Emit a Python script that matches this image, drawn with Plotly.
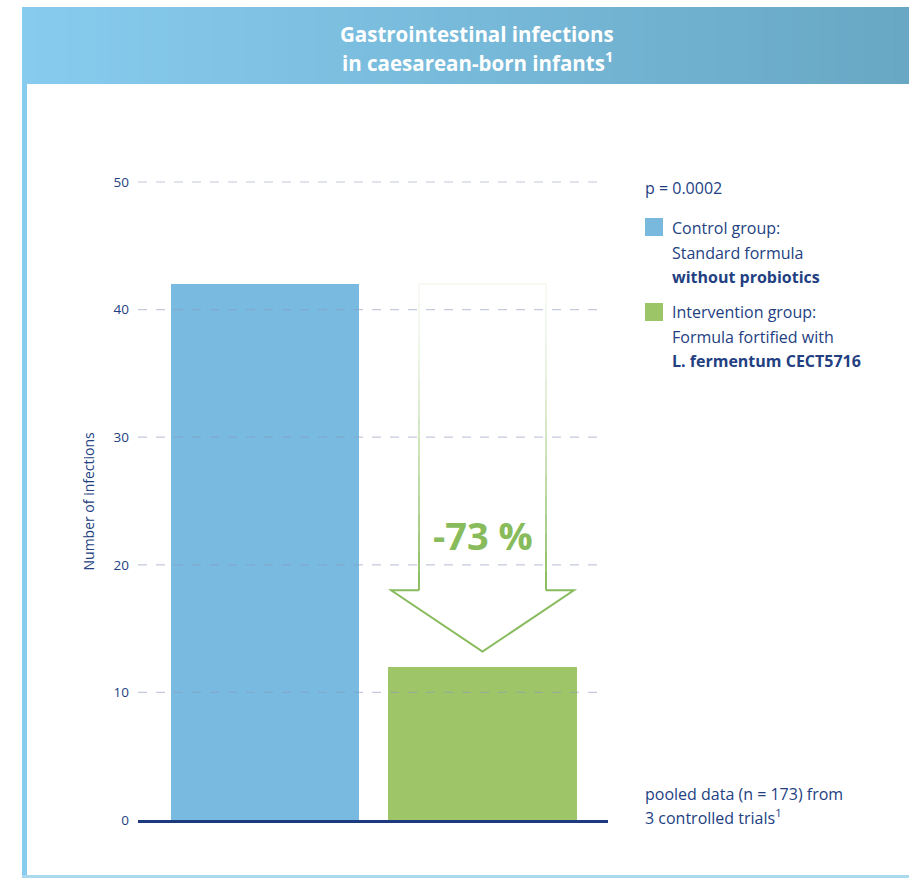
import plotly.graph_objects as go

# ---- data ----
groups = ["Control group", "Intervention group"]
infections = [42, 12]
reduction_label = "-73 %"
y_ticks = [0, 10, 20, 30, 40, 50]
title_lines = ["Gastrointestinal infections", "in caesarean-born infants<sup>1</sup>"]
p_value_text = "p = 0.0002"
legend_control = ["Control group:", "Standard formula", "<b>without probiotics</b>"]
legend_interv = ["Intervention group:", "Formula fortified with", "<b>L. fermentum CECT5716</b>"]
footnote = ["pooled data (n = 173) from", "3 controlled trials<sup>1</sup>"]
y_axis_title = "Number of infections"

# ---- layout constants ----
W, H = 909, 878
ML, MR, MT, MB = 138, 301, 100, 58
PW, PH = W - ML - MR, H - MT - MB
PX_PER_UNIT = 12.76
NAVY = "#233f82"
GREEN = "#88bb5c"
bar_colors = ["#79bbe0", "#9ec668"]

def px(xp):
    return (xp - ML) / PW

def py(yp):
    return (H - MB - yp) / PH

x_pos = list(range(len(groups)))

fig = go.Figure()
fig.add_trace(go.Bar(
    x=x_pos, y=infections, width=0.865,
    marker=dict(color=bar_colors, line=dict(width=0)),
    hoverinfo="skip", showlegend=False,
))

shapes = []

# header gradient band
c0 = (0x87, 0xcb, 0xee)
c1 = (0x68, 0xa8, 0xc5)
n = 60
x_left, x_right = 22, 909
for i in range(n):
    t = i / (n - 1)
    col = "rgb(%d,%d,%d)" % tuple(round(a + (b - a) * t) for a, b in zip(c0, c1))
    xa = x_left + (x_right - x_left) * i / n
    xb = x_left + (x_right - x_left) * (i + 1) / n + 0.8
    shapes.append(dict(type="rect", xref="paper", yref="paper",
                       x0=px(xa), x1=px(xb), y0=py(84), y1=py(7),
                       fillcolor=col, line=dict(width=0), layer="below"))
# left stripe and bottom line
shapes.append(dict(type="rect", xref="paper", yref="paper", x0=px(22), x1=px(27),
                   y0=py(878), y1=py(84), fillcolor="#87cbee", line=dict(width=0)))
shapes.append(dict(type="rect", xref="paper", yref="paper", x0=px(22), x1=px(909),
                   y0=py(878), y1=py(875), fillcolor="#a9d8ef", line=dict(width=0)))

# dashed gridlines drawn above the bars (semi-transparent)
for t in y_ticks[1:]:
    shapes.append(dict(type="line", xref="paper", yref="y", x0=0, x1=0.995, y0=t, y1=t,
                       line=dict(color="rgba(140,150,185,0.5)", width=1.2, dash="dash"),
                       layer="above"))

# arrow outline (from control level down to intervention level)
top = infections[0]
tip = infections[1] + 1.2
head_base = 18.0
cx = x_pos[1]
shaft_hw, head_hw = 0.292, 0.42
shapes.append(dict(type="line", x0=cx - shaft_hw, x1=cx + shaft_hw, y0=top, y1=top,
                   line=dict(color=GREEN, width=2), opacity=0.08))
nseg = 16
for i in range(nseg):
    ya = top - (top - head_base) * i / nseg
    yb = top - (top - head_base) * (i + 1) / nseg
    op = 0.06 + 0.94 * ((i + 0.5) / nseg) ** 1.6
    for sx in (cx - shaft_hw, cx + shaft_hw):
        shapes.append(dict(type="line", x0=sx, x1=sx, y0=ya, y1=yb,
                           line=dict(color=GREEN, width=2), opacity=op))
head_path = (f"M {cx - shaft_hw} {head_base} L {cx - head_hw} {head_base} "
             f"L {cx} {tip} L {cx + head_hw} {head_base} L {cx + shaft_hw} {head_base}")
shapes.append(dict(type="path", path=head_path, line=dict(color=GREEN, width=2)))

# legend squares
shapes.append(dict(type="rect", xref="paper", yref="paper", x0=px(645), x1=px(663),
                   y0=py(236), y1=py(218), fillcolor="#78b9dd", line=dict(width=0)))
shapes.append(dict(type="rect", xref="paper", yref="paper", x0=px(645), x1=px(663),
                   y0=py(321), y1=py(303), fillcolor="#9cc568", line=dict(width=0)))

FONT = "Open Sans"
annotations = []
annotations.append(dict(xref="paper", yref="paper", x=px(477), y=py(34),
                        text="<b>" + title_lines[0] + "</b>",
                        showarrow=False, xanchor="center", yanchor="middle",
                        font=dict(family=FONT, size=20.5, color="white")))
annotations.append(dict(xref="paper", yref="paper", x=px(477), y=py(62),
                        text="<b>" + title_lines[1] + "</b>",
                        showarrow=False, xanchor="center", yanchor="middle",
                        font=dict(family=FONT, size=20.5, color="white")))
annotations.append(dict(xref="paper", yref="paper", x=px(76), y=py(501),
                        text=y_axis_title, textangle=-90, showarrow=False,
                        font=dict(family=FONT, size=14, color=NAVY)))
annotations.append(dict(x=cx, y=22.3, text="<b>" + reduction_label + "</b>",
                        showarrow=False, xanchor="center", yanchor="middle",
                        font=dict(family=FONT, size=38, color=GREEN)))

def text_block(lines, x_px, y_first, step=24.5, size=16):
    for k, line in enumerate(lines):
        annotations.append(dict(xref="paper", yref="paper", x=px(x_px), y=py(y_first + k * step),
                                text=line, showarrow=False, xanchor="left", yanchor="middle",
                                font=dict(family=FONT, size=size, color=NAVY)))

text_block([p_value_text], 643, 188)
text_block(legend_control, 670, 228)
text_block(legend_interv, 670, 312)
text_block(footnote, 643, 794, step=22.5)

fig.update_layout(
    width=W, height=H,
    margin=dict(l=ML, r=MR, t=MT, b=MB),
    paper_bgcolor="white", plot_bgcolor="rgba(0,0,0,0)",
    shapes=shapes, annotations=annotations,
    font=dict(family=FONT, color=NAVY),
    bargap=0,
    xaxis=dict(range=[-0.584, 1.577], showticklabels=False, showgrid=False,
               zeroline=False, showline=True, linecolor="#1c3a7e", linewidth=3,
               fixedrange=True),
    yaxis=dict(range=[0, PH / PX_PER_UNIT], tickvals=y_ticks, showgrid=False,
               zeroline=False, showline=False, ticklabelstandoff=8,
               tickfont=dict(family=FONT, size=13.5, color=NAVY), fixedrange=True),
)

fig.write_html("out.html")
